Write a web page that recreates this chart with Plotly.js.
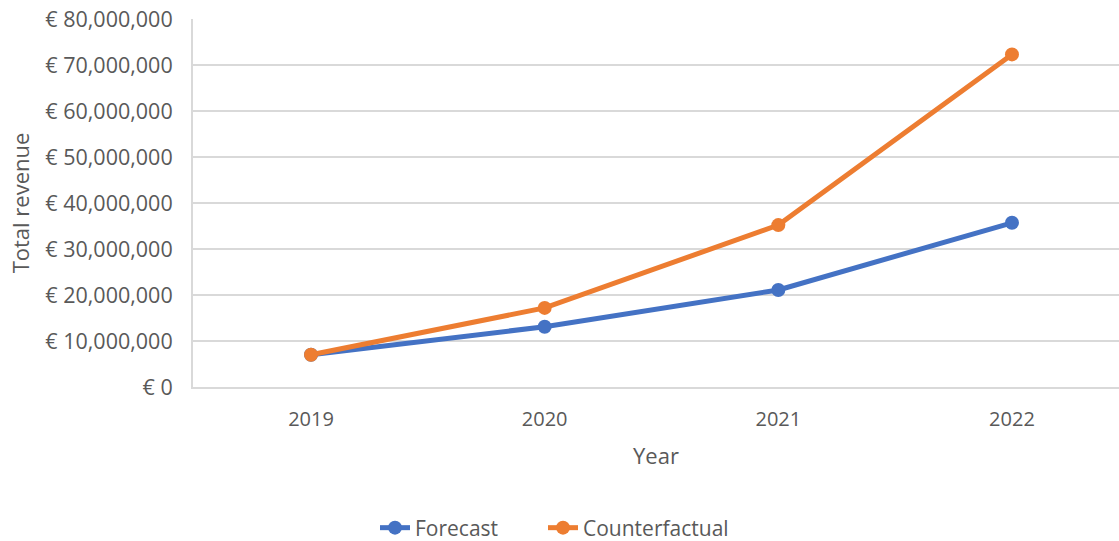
<!DOCTYPE html>
<html>
<head>
<meta charset="utf-8">
<script src="https://cdn.plot.ly/plotly-3.0.1.min.js"></script>
<style>html,body{margin:0;padding:0;background:#fff;}#chart{width:1119px;height:541px;}</style>
</head>
<body>
<div id="chart"></div>
<script>
const years = ["2019", "2020", "2021", "2022"];
const forecast = [7000000, 13100000, 21100000, 35700000];
const counterfactual = [7000000, 17200000, 35200000, 72300000];
const yTicks = [0, 10000000, 20000000, 30000000, 40000000, 50000000, 60000000, 70000000, 80000000];
const yTickText = yTicks.map(v => "€ " + v.toLocaleString("en-US"));

const font = "Open Sans, Liberation Sans, Arial, sans-serif";
const traces = [
  {x: years, y: forecast, name: "Forecast", type: "scatter", mode: "lines+markers", legend: "legend",
   line: {color: "#4472C4", width: 5}, marker: {color: "#4472C4", size: 14}},
  {x: years, y: counterfactual, name: "Counterfactual", type: "scatter", mode: "lines+markers", legend: "legend2",
   line: {color: "#ED7D31", width: 5}, marker: {color: "#ED7D31", size: 14}}
];
const legendBase = {orientation: "h", xref: "container", yref: "container", y: 0.024,
  xanchor: "left", yanchor: "middle", font: {size: 21, color: "#595959"}};
const layout = {
  width: 1119, height: 541,
  margin: {l: 193, r: 0, t: 19, b: 154},
  paper_bgcolor: "#fff", plot_bgcolor: "#fff",
  font: {family: font, color: "#595959", size: 20},
  showlegend: true,
  legend: Object.assign({}, legendBase, {x: 375 / 1119}),
  legend2: Object.assign({}, legendBase, {x: 543 / 1119}),
  xaxis: {type: "category", range: [-0.505, 3.458], showgrid: false, zeroline: false,
          showline: true, linecolor: "#d9d9d9", linewidth: 2, ticks: "",
          ticklabelstandoff: 13,
          tickfont: {size: 20, color: "#595959"},
          title: {text: "Year", font: {size: 22, color: "#595959"}, standoff: 18}},
  yaxis: {range: [0, 80000000], tickvals: yTicks, ticktext: yTickText,
          showgrid: true, gridcolor: "#d9d9d9", gridwidth: 2, zeroline: false,
          showline: true, linecolor: "#d9d9d9", linewidth: 2, ticks: "",
          ticklabelstandoff: 14,
          tickfont: {size: 21.5, color: "#595959"},
          title: {text: "Total revenue", font: {size: 22, color: "#595959"}, standoff: 10}}
};
Plotly.newPlot("chart", traces, layout, {displayModeBar: false, responsive: false});
</script>
</body>
</html>
